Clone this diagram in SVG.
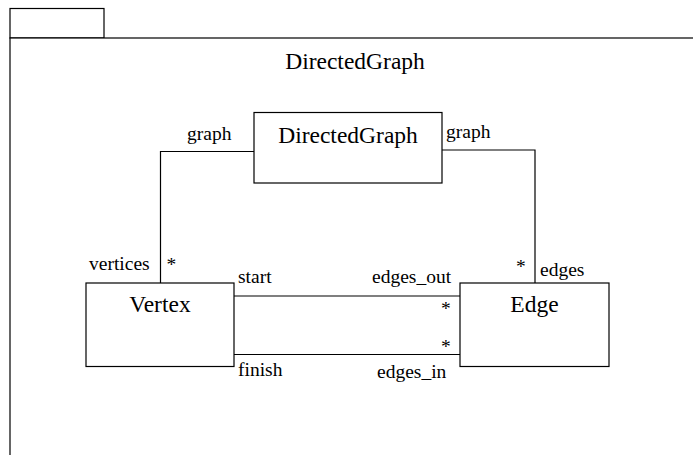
<svg xmlns="http://www.w3.org/2000/svg" width="693" height="455" viewBox="0 0 693 455">
<style>
.ln{fill:none;stroke:#000;stroke-width:1.2}
.box{fill:#fff;stroke:#000;stroke-width:1.2}
text{font-family:'Liberation Serif','DejaVu Serif',serif;fill:#000}
.big{font-size:23.5px}
.sm{font-size:19.5px}
</style>
<rect width="693" height="455" fill="#fff"/>
<g id="package">
<rect class="box" x="10" y="8.5" width="94" height="29.5"/>
<rect class="box" x="10" y="38" width="700" height="430"/>
<text class="big" x="355" y="69" text-anchor="middle" font-family="Liberation Serif">DirectedGraph</text>
</g>
<g id="connectors">
<polyline class="ln" points="254,151.5 160.5,151.5 160.5,283"/>
<polyline class="ln" points="442,150 535,150 535,283"/>
<line class="ln" x1="234" y1="296" x2="460" y2="296"/>
<line class="ln" x1="234" y1="354.5" x2="460" y2="354.5"/>
<text class="sm" x="187" y="140">graph</text>
<text class="sm" x="446" y="138">graph</text>
<text class="sm" x="89" y="270">vertices</text>
<text class="sm" x="166.5" y="271">*</text>
<text class="sm" x="516" y="273">*</text>
<text class="sm" x="540" y="276">edges</text>
<text class="sm" x="238" y="283">start</text>
<text class="sm" x="372" y="283">edges_out</text>
<text class="sm" x="441" y="315">*</text>
<text class="sm" x="441" y="352.5">*</text>
<text class="sm" x="238" y="376">finish</text>
<text class="sm" x="377" y="378">edges_in</text>
</g>
<g id="DirectedGraph">
<rect class="box" x="254" y="112.5" width="188" height="70.5"/>
<text class="big" x="348" y="143" text-anchor="middle">DirectedGraph</text>
</g>
<g id="Vertex">
<rect class="box" x="86" y="283" width="148" height="83.5"/>
<text class="big" x="160" y="312" text-anchor="middle">Vertex</text>
</g>
<g id="Edge">
<rect class="box" x="460" y="283" width="149" height="83.5"/>
<text class="big" x="534.5" y="312" text-anchor="middle">Edge</text>
</g>
</svg>
